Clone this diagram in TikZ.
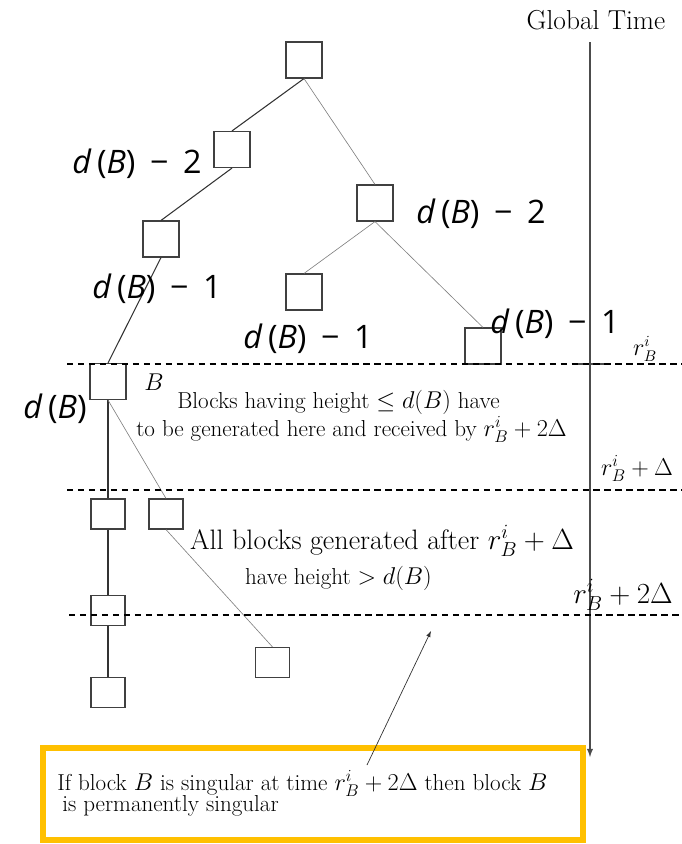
\documentclass[tikz,border=0pt]{standalone}
\usepackage{amsmath,amssymb}
\usepackage{fontspec}
\newfontfamily\labelfont{Open Sans}
\usetikzlibrary{arrows.meta, positioning}
\definecolor{notegold}{RGB}{255,192,0}
\newcommand{\dB}{\textit{d}\,(\textit{B}\/)}

\begin{document}
\begin{tikzpicture}[x=0.025cm, y=-0.025cm, >=latex,
    blk/.style={draw=black!75, line width=0.8pt, minimum width=0.9cm, minimum height=0.9cm, inner sep=0pt},
    sblk/.style={blk, minimum width=0.85cm, minimum height=0.75cm},
    chain/.style={draw=black!80, line width=0.75pt},
    fork/.style={draw=black!50, line width=0.45pt},
    slot/.style={dash pattern=on 4.6pt off 3.2pt, line width=1.1pt},
    dlab/.style={font=\labelfont\fontsize{23}{27}\selectfont, anchor=base, inner sep=0pt},
    rlab/.style={font=\fontsize{16.4}{19}\selectfont, anchor=base, inner sep=0pt}]
    \useasboundingbox (0,0) rectangle (682,844);

    % blocks of the tree
    \node[blk] (root) at (304,60) {};
    \node[blk] (n1) at (232,149.5) {};
    \node[blk] (n2) at (161,239) {};
    \node[blk] (n3) at (375,203) {};
    \node[blk] (n4) at (304,292) {};
    \node[blk] (n5) at (483,346) {};
    \node[blk] (B) at (108,381.5) {};
    \node[sblk] (c1) at (108,514) {};
    \node[sblk] (c2) at (166,514) {};
    \node[sblk] (c3) at (108,610.5) {};
    \node[sblk] (c4) at (108,692.5) {};
    \node[sblk] (far) at (272.5,662.5) {};

    \draw[chain] (root.south) -- (n1.north);
    \draw[chain] (n1.south) -- (n2.north);
    \draw[chain] (n2.south) -- (B.north);
    \draw[chain] (B.south) -- (c1.north);
    \draw[chain] (c1.south) -- (c3.north);
    \draw[chain] (c3.south) -- (c4.north);
    \draw[fork] (root.south) -- (n3.north);
    \draw[fork] (n3.south) -- (n4.north);
    \draw[fork] (n3.south) -- (n5.north);
    \draw[fork] (B.south) -- (c2.north);
    \draw[fork] (c2.south) -- (far.north);

    % heights
    \node[dlab] (h1) at (137,173) {\dB\hspace{0.45em}−\hspace{0.45em}2};
    \node[dlab] (h2) at (481,223) {\dB\hspace{0.45em}−\hspace{0.45em}2};
    \node[dlab] (h3) at (157,298) {\dB\hspace{0.45em}−\hspace{0.45em}1};
    \node[dlab] (h4) at (308,348) {\dB\hspace{0.45em}−\hspace{0.45em}1};
    \node[dlab] (h5) at (555,333) {\dB\hspace{0.45em}−\hspace{0.45em}1};
    \node[dlab] (h6) at (55,418) {\dB};
    \node[rlab] (bname) at (154,390) {$B$};

    % global time
    \node[font=\fontsize{19.5}{23}\selectfont] (gt) at (596,20) {Global Time};
    \coordinate (tTop) at (590,42);
    \coordinate (tEnd) at (590,757);
    \draw[->, line width=1pt, black!70] (tTop) -- (tEnd);
    \draw[line width=0.8pt, black!70] (572,364) -- (607,364);
    \draw[slot] (67,364) -- (682,364);
    \draw[slot] (67,490) -- (682,490);
    \draw[slot] (69,615) -- (682,615);
    \node[rlab, font=\fontsize{16}{18}\selectfont] (r0) at (645,355) {$r_B^i$};
    \node[rlab, font=\fontsize{16.5}{19}\selectfont] (r1) at (637,475) {$r_B^i+\Delta$};
    \node[rlab, font=\fontsize{20}{24}\selectfont] (r2) at (623,603) {$r_B^i+2\Delta$};

    % regions
    \node[rlab] (blk1) at (338.5,408) {Blocks having height $\leq d(B)$ have};
    \node[rlab] (blk2) at (351.5,436) {to be generated here and received by $r_B^i+2\Delta$};
    \node[rlab, font=\fontsize{20}{24}\selectfont] (aft1) at (382,549) {All blocks generated after $r_B^i+\Delta$};
    \node[rlab] (aft2) at (338.5,584) {have height $>d(B)$};

    % note
    \draw[notegold, line width=3.6pt] (43,748) rectangle (583,840);
    \node[rlab, anchor=base west] (note1) at (57,790) {If block $B$ is singular at time $r_B^i+2\Delta$ then block $B$};
    \node[rlab, anchor=base west] (note2) at (62,811) {is permanently singular};
    \coordinate (noteTip) at (367,765);
    \coordinate (gap) at (431,631);
    \draw[->, line width=0.5pt, black!80] (noteTip) -- (gap);
\end{tikzpicture}
\end{document}
